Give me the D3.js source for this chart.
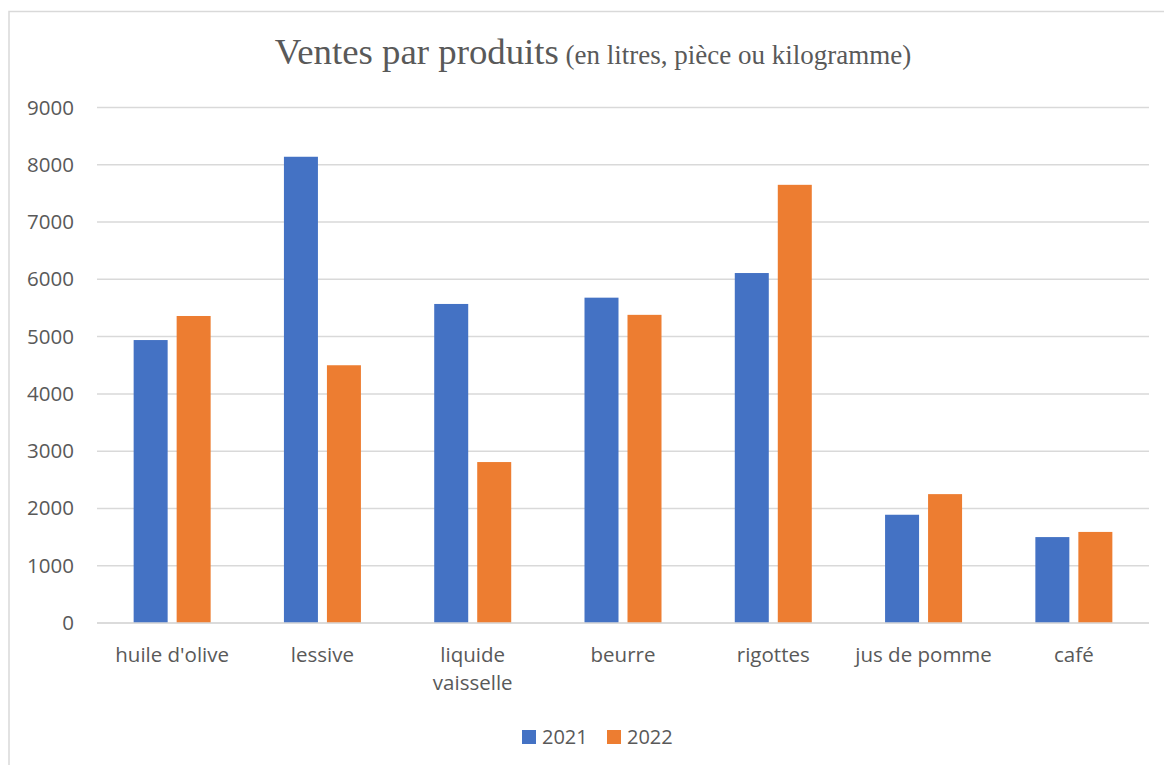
<!DOCTYPE html>
<html>
<head>
<meta charset="UTF-8">
<script src="https://cdn.jsdelivr.net/npm/d3@7"></script>
<style>
  body { margin: 0; background: #fff; }
  svg text { fill: #595959; }
</style>
</head>
<body>
<svg id="chart" width="1164" height="765"></svg>
<script>
// data
var categories = ["huile d'olive", "lessive", "liquide vaisselle", "beurre", "rigottes", "jus de pomme", "café"];
var years = ["2021", "2022"];
var ventes2021 = [4940, 8140, 5570, 5680, 6110, 1890, 1500];
var ventes2022 = [5360, 4500, 2810, 5380, 7650, 2250, 1590];
var yTicks = [0, 1000, 2000, 3000, 4000, 5000, 6000, 7000, 8000, 9000];
var colors = ["#4472C4", "#ED7D31"];

var svg = d3.select("#chart");
var labelFont = "'Open Sans', Lato, sans-serif";

// frame of the chart area
svg.append("rect")
    .attr("x", 9).attr("y", 11.5)
    .attr("width", 1200).attr("height", 800)
    .attr("fill", "none")
    .attr("stroke", "#d9d9d9")
    .attr("stroke-width", 1.5);

var plotLeft = 97, plotRight = 1149, plotTop = 107.5, plotBottom = 623;

var x = d3.scaleBand().domain(categories).range([plotLeft, plotRight]);
var y = d3.scaleLinear().domain([0, 9000]).range([plotBottom, plotTop]);

// gridlines
svg.append("g")
    .selectAll("line")
    .data(yTicks)
    .enter().append("line")
    .attr("x1", plotLeft).attr("x2", plotRight)
    .attr("y1", function(d) { return y(d); })
    .attr("y2", function(d) { return y(d); })
    .attr("stroke", "#d9d9d9")
    .attr("stroke-width", 1.5);

// y labels
svg.append("g")
    .selectAll("text")
    .data(yTicks)
    .enter().append("text")
    .attr("x", 74)
    .attr("y", function(d) { return y(d) + 7; })
    .attr("text-anchor", "end")
    .style("font-family", labelFont)
    .style("font-size", "20.5px")
    .text(function(d) { return d; });

// bars
var barW = 34, gap = 9;
var series = [ventes2021, ventes2022];
series.forEach(function(vals, s) {
    svg.append("g")
        .selectAll("rect")
        .data(vals)
        .enter().append("rect")
        .attr("x", function(d, i) {
            var c = x(categories[i]) + x.bandwidth() / 2;
            return s === 0 ? c - gap / 2 - barW : c + gap / 2;
        })
        .attr("y", function(d) { return y(d); })
        .attr("width", barW)
        .attr("height", function(d) { return plotBottom - y(d); })
        .attr("fill", colors[s]);
});

// baseline on top of the bars
svg.append("line")
    .attr("x1", plotLeft).attr("x2", plotRight)
    .attr("y1", plotBottom).attr("y2", plotBottom)
    .attr("stroke", "#d9d9d9")
    .attr("stroke-width", 1.5);

// category labels (liquide vaisselle wraps on two lines)
var catLines = { "liquide vaisselle": ["liquide", "vaisselle"] };
var catG = svg.append("g")
    .selectAll("text")
    .data(categories)
    .enter().append("text")
    .attr("text-anchor", "middle")
    .style("font-family", labelFont)
    .style("font-size", "20.5px");

catG.each(function(d) {
    var t = d3.select(this);
    var lines = catLines[d] || [d];
    lines.forEach(function(l, k) {
        t.append("tspan")
            .attr("x", x(d) + x.bandwidth() / 2)
            .attr("y", 662 + k * 28)
            .text(l);
    });
});

// title
var title = svg.append("text")
    .attr("x", 593)
    .attr("y", 64)
    .attr("text-anchor", "middle")
    .style("font-family", "'Liberation Serif', 'DejaVu Serif', serif");
title.append("tspan").style("font-size", "36.8px").text("Ventes par produits");
title.append("tspan").style("font-size", "27px").text(" (en litres, pièce ou kilogramme)");

// legend
var legendX = [522, 607];
years.forEach(function(yr, i) {
    svg.append("rect")
        .attr("x", legendX[i]).attr("y", 730)
        .attr("width", 14).attr("height", 14)
        .attr("fill", colors[i]);
    svg.append("text")
        .attr("x", legendX[i] + 20)
        .attr("y", 744)
        .style("font-family", labelFont)
        .style("font-size", "20px")
        .text(yr);
});
</script>
</body>
</html>
